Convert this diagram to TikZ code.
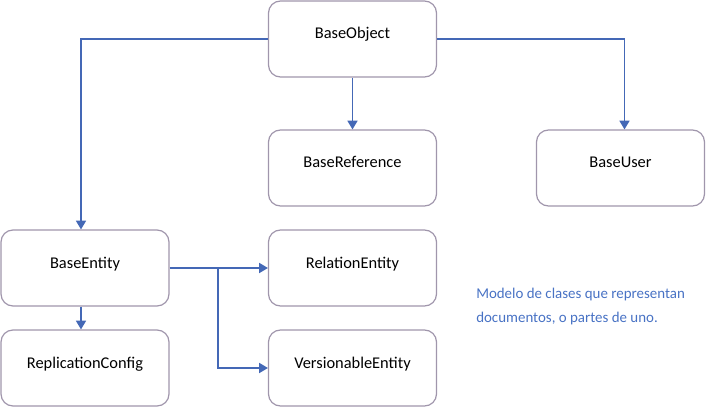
\documentclass[tikz,border=0pt]{standalone}
\usepackage{fontspec}
\setmainfont{Carlito}
\usepackage{xcolor}
\usetikzlibrary{arrows.meta}

\definecolor{boxline}{RGB}{160,150,172}
\definecolor{linkblue}{RGB}{68,104,182}
\definecolor{noteblue}{RGB}{72,114,196}

\tikzset{
  classbox/.style = {rectangle,
      draw = boxline,
      line width = 0.9pt,
      rounded corners = 9pt,
      fill = white,
      minimum width = 126pt,
      minimum height = 57pt,
      text height = 8pt,
      text depth = 8pt,
      font = \fontsize{12.3}{14}\selectfont},
  link/.style = {draw = linkblue,
      line width = 1.1pt,
      -{Triangle[width=7.5pt,length=6.5pt]}}
}

\begin{document}
\begin{tikzpicture}[x=0.75pt, y=-0.75pt]
\useasboundingbox (0,0) rectangle (708,410);

% top
  \node[classbox] (obj) at (352.5,39) {BaseObject};

% second row
  \node[classbox] (ref) at (352.5,168) {BaseReference};
  \node[classbox] (usr) at (620.5,168) {BaseUser};

% entities
  \node[classbox] (ent) at (85,268) {BaseEntity};
  \node[classbox] (rel) at (352.5,268) {RelationEntity};
  \node[classbox] (rep) at (85,368) {ReplicationConfig};
  \node[classbox] (ver) at (352.5,368) {VersionableEntity};

% note (base = last line)
  \node[anchor=base west, align=left, inner sep=0pt, text=noteblue,
      font=\fontsize{11.2}{18}\selectfont] (note) at (476,322)
      {Modelo de clases que representan\\documentos, o partes de uno.};

% links
\draw[link] (obj.west) -| ([xshift=-3pt]ent.north);
\draw[link] (obj.south) -- (ref.north);
\draw[link] (obj.east) -| ([xshift=3pt]usr.north);
\draw[link] (ent.east) -- (rel.west);
\coordinate (split) at (218,268);
\draw[link] (split) |- (ver.west);
\draw[link] ([xshift=-3pt]ent.south) -- ([xshift=-3pt]rep.north);
\end{tikzpicture}
\end{document}
